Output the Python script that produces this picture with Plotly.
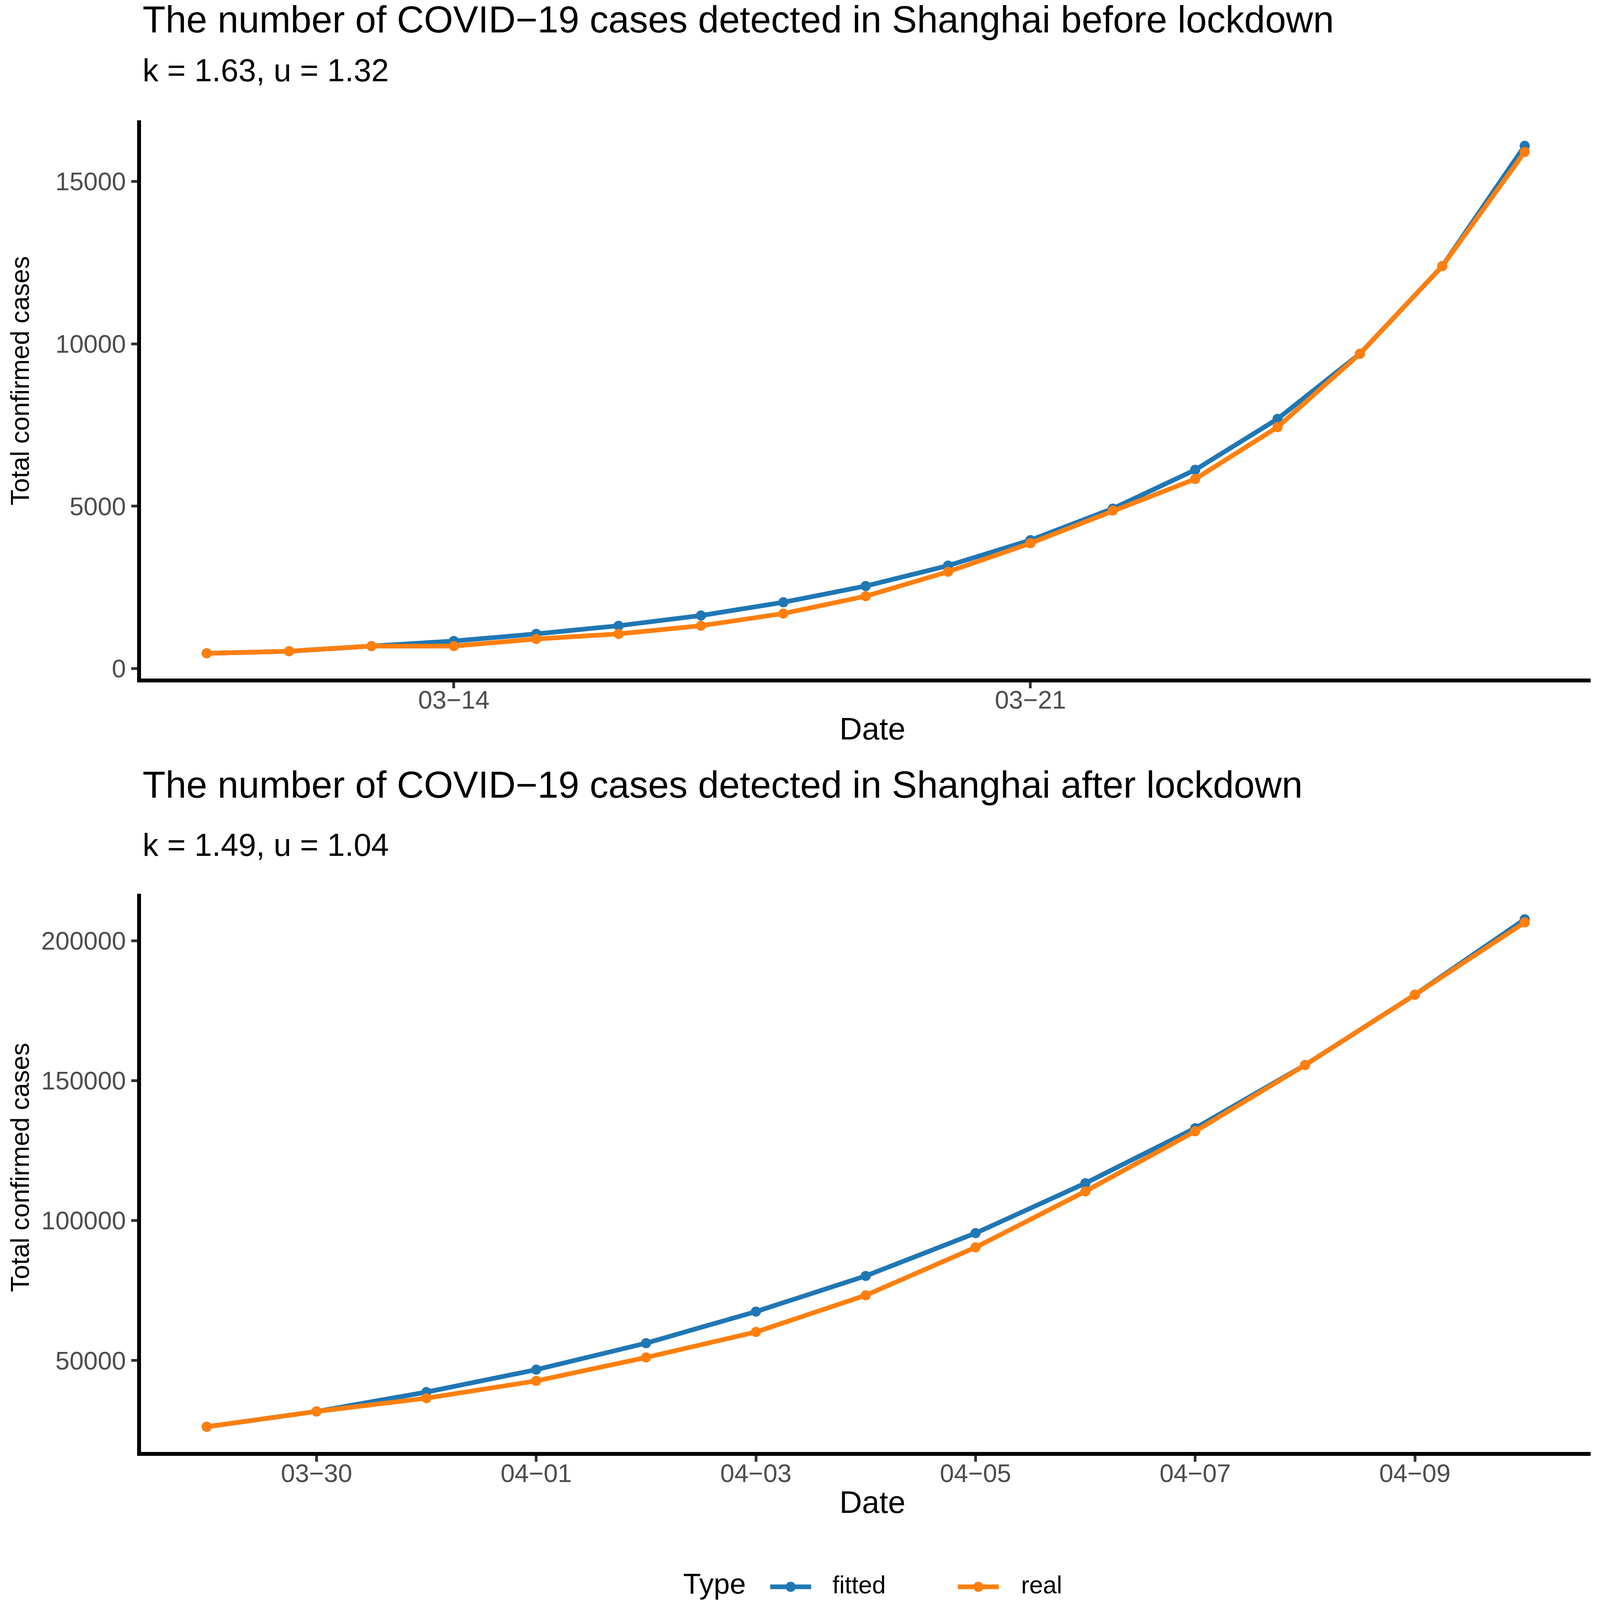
import pandas as pd
import plotly.graph_objects as go

# data
dates_before = pd.date_range("2022-03-11", "2022-03-27", freq="D")
fitted_before = [470, 533, 690, 847, 1067, 1318, 1632, 2040, 2541, 3169, 3954,
                 4926, 6119, 7688, 9696, 12394, 16097]
real_before = [470, 533, 690, 690, 910, 1067, 1318, 1694, 2228, 2981, 3860,
               4864, 5836, 7437, 9696, 12394, 15908]

dates_after = pd.date_range("2022-03-29", "2022-04-10", freq="D")
fitted_after = [26338, 31800, 38715, 46724, 56189, 67474, 80215, 95504, 113342,
                133000, 155570, 180688, 207626]
real_after = [26338, 31800, 36530, 42720, 51092, 60193, 73298, 90408, 110430,
              131907, 155570, 180688, 206534]

titles = ["The number of COVID\u221219 cases detected in Shanghai before lockdown",
          "The number of COVID\u221219 cases detected in Shanghai after lockdown"]
subtitles = ["k = 1.63, u = 1.32", "k = 1.49, u = 1.04"]
series = ["fitted", "real"]

BLUE = "#1F77B4"
ORANGE = "#FF7F0E"
# the browser window turned out to be 4096 x 4096, so fill that
W, H = 4096, 4096
FONT = "Liberation Sans, Arial, sans-serif"


def px_x(v):
    # positions were measured on a 1406 x 1568 copy of the reference
    return v / 1406


def px_y(v):
    return 1 - v / 1568


fig = go.Figure()

panels = [
    (dates_before, fitted_before, real_before, "x", "y"),
    (dates_after, fitted_after, real_after, "x2", "y2"),
]
for d, fit, real, xa, ya in panels:
    fig.add_trace(go.Scatter(x=d, y=fit, mode="lines+markers", name=series[0],
                             line=dict(color=BLUE, width=12), marker=dict(size=26, color=BLUE),
                             xaxis=xa, yaxis=ya, showlegend=False))
    fig.add_trace(go.Scatter(x=d, y=real, mode="lines+markers", name=series[1],
                             line=dict(color=ORANGE, width=12), marker=dict(size=26, color=ORANGE),
                             xaxis=xa, yaxis=ya, showlegend=False))

axis_style = dict(showline=True, linecolor="black", linewidth=10, showgrid=False, zeroline=False,
                  ticks="outside", ticklen=15, tickwidth=7, tickcolor="#333333",
                  tickfont=dict(size=65, color="#4D4D4D", family=FONT), automargin=False)

fig.update_layout(
    width=W, height=H,
    margin=dict(l=0, r=0, t=0, b=0),
    plot_bgcolor="white", paper_bgcolor="white",
    font=dict(family=FONT, color="black"),
    showlegend=False,
    xaxis=dict(axis_style, domain=[px_x(121), px_x(1395)], anchor="y",
               range=["2022-03-10 04:48", "2022-03-27 19:12"], ticklabelstandoff=-26,
               tick0="2022-03-14", dtick=7 * 86400000, tickformat="%m\u2212%d"),
    yaxis=dict(axis_style, domain=[px_y(662), px_y(115)], anchor="x",
               range=[-311, 16878], tickvals=[0, 5000, 10000, 15000], tickformat="d"),
    xaxis2=dict(axis_style, domain=[px_x(121), px_x(1395)], anchor="y2",
                range=["2022-03-28 09:36", "2022-04-10 14:24"], ticklabelstandoff=-26,
                tick0="2022-03-30", dtick=2 * 86400000, tickformat="%m\u2212%d"),
    yaxis2=dict(axis_style, domain=[px_y(1420), px_y(873)], anchor="x2",
                range=[17274, 216690], tickvals=[50000, 100000, 150000, 200000], tickformat="d"),
)

# titles, subtitles and axis titles
for j, (top, sub, ylab, xlab) in enumerate([(16, 66, 370, 711), (766, 825, 1141, 1469)]):
    fig.add_annotation(x=px_x(122), y=px_y(top), xref="paper", yref="paper", text=titles[j],
                       showarrow=False, xanchor="left", yanchor="middle", font=dict(size=96))
    fig.add_annotation(x=px_x(122), y=px_y(sub), xref="paper", yref="paper", text=subtitles[j],
                       showarrow=False, xanchor="left", yanchor="middle", font=dict(size=81))
    fig.add_annotation(x=px_x(14.5), y=px_y(ylab), xref="paper", yref="paper",
                       text="Total confirmed cases", textangle=-90,
                       showarrow=False, xanchor="center", yanchor="middle", font=dict(size=66))
    fig.add_annotation(x=px_x(764), y=px_y(xlab), xref="paper", yref="paper", text="Date",
                       showarrow=False, xanchor="center", yanchor="middle", font=dict(size=80))

# legend drawn by hand at the bottom, ggplot style: title, key (line with dot), label
fig.add_annotation(x=px_x(597), y=px_y(1549), xref="paper", yref="paper", text="Type",
                   showarrow=False, xanchor="left", yanchor="middle", font=dict(size=74))
for name, color, key_left, label_left in [(series[0], BLUE, 674, 728), (series[1], ORANGE, 839, 894)]:
    fig.add_shape(type="line", xref="paper", yref="paper",
                  x0=px_x(key_left), x1=px_x(key_left + 36), y0=px_y(1552), y1=px_y(1552),
                  line=dict(color=color, width=12))
    fig.add_shape(type="circle", xref="paper", yref="paper", xsizemode="pixel", ysizemode="pixel",
                  xanchor=px_x(key_left + 18), yanchor=px_y(1552), x0=-13, x1=13, y0=-13, y1=13,
                  fillcolor=color, line=dict(width=0))
    fig.add_annotation(x=px_x(label_left), y=px_y(1550), xref="paper", yref="paper", text=name,
                       showarrow=False, xanchor="left", yanchor="middle", font=dict(size=63))

fig.write_html("out.html")
